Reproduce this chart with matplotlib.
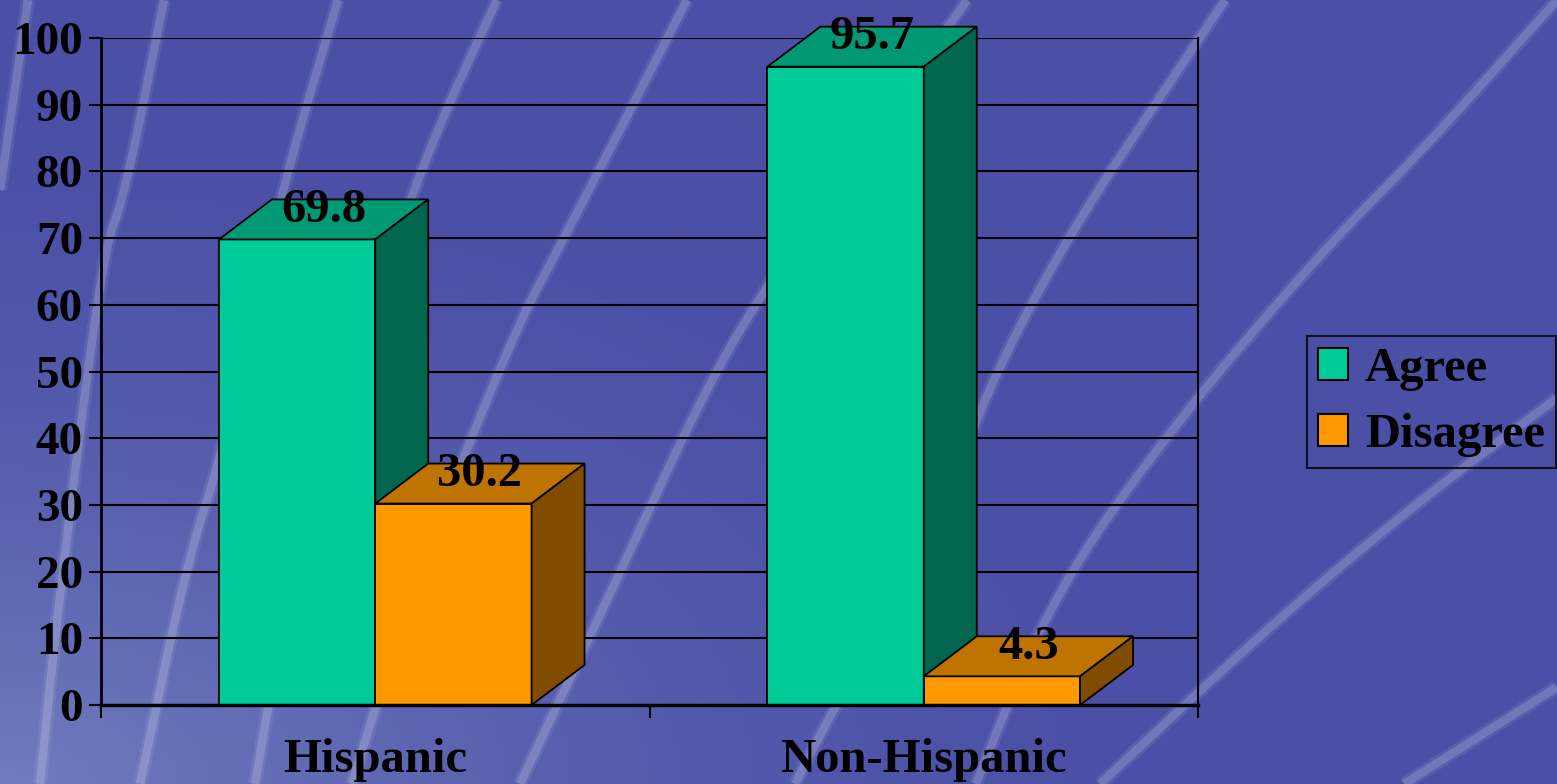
import matplotlib
matplotlib.use("Agg")
from matplotlib import pyplot as plt
from matplotlib.patches import Polygon, Patch
import numpy as np

# Data
categories = ["Hispanic", "Non-Hispanic"]
series = ["Agree", "Disagree"]
agree = [69.8, 95.7]
disagree = [30.2, 4.3]
yticks = list(range(0, 101, 10))

# Colours: front, top, side
face_cols = {"Agree": ("#00CC99", "#009973", "#00664D"),
             "Disagree": ("#FF9900", "#BF7300", "#804D00")}

W, H = 1557, 784
fig = plt.figure(figsize=(W / 100, H / 100), dpi=100)
plt.rcParams["font.family"] = ["Liberation Serif", "DejaVu Serif"]
plt.rcParams["font.weight"] = "bold"

# Background: blue gradient with light diagonal streaks
bg = fig.add_axes([0, 0, 1, 1], zorder=-10)
bg.set_xlim(0, W)
bg.set_ylim(H, 0)
bg.axis("off")
yy, xx = np.mgrid[0:H:4, 0:W:4]
t = np.clip(1 - np.hypot(xx / W, (H - yy) / H * 0.9) / 0.75, 0, 1) ** 1.6
base = np.array([75, 80, 166]) / 255
light = np.array([112, 124, 190]) / 255
img = base[None, None, :] * (1 - t[..., None]) + light[None, None, :] * t[..., None]
bg.imshow(img, extent=[0, W, H, 0], aspect="auto", interpolation="bilinear")

streaks = [
    [(28, 0), (0, 190)],
    [(164, 0), (124, 199), (103, 250), (58, 607), (40, 784)],
    [(338, 0), (279, 199), (224, 448), (187, 562), (140, 784)],
    [(497, 0), (428, 149), (358, 348), (300, 520), (255, 784)],
    [(687, 0), (558, 250), (520, 320), (446, 500), (379, 696), (352, 784)],
    [(967, 0), (767, 283), (700, 400), (625, 562), (520, 784)],
    [(1225, 0), (1026, 298), (926, 547), (827, 721), (795, 784)],
    [(1557, 0), (1424, 149), (1324, 249), (1175, 423), (1051, 597), (976, 784)],
    [(1557, 398), (1424, 497), (1274, 622), (1100, 784)],
    [(1557, 687), (1404, 784)],
]


def chaikin(pts, n=4):
    # corner cutting so the streaks bend smoothly
    for _ in range(n):
        q = [pts[0]]
        for a, b in zip(pts[:-1], pts[1:]):
            q.append(0.75 * a + 0.25 * b)
            q.append(0.25 * a + 0.75 * b)
        q.append(pts[-1])
        pts = np.array(q)
    return pts


for s in streaks:
    s = chaikin(np.array(s, dtype=float))
    bg.plot(s[:, 0], s[:, 1], color="white", alpha=0.08, lw=10, solid_capstyle="butt")
    bg.plot(s[:, 0], s[:, 1], color="white", alpha=0.16, lw=6, solid_capstyle="butt")

# Main axes
ax = fig.add_axes([101 / W, (H - 705) / H, (1198 - 101) / W, (705 - 38) / H])
ax.set_facecolor("none")
ax.set_xlim(0, 2)
ax.set_ylim(0, 100)

# grid lines (front plane)
for v in yticks[1:]:
    ax.axhline(v, color="black", lw=1.5, zorder=1)

bw = 0.285      # bar width (axis units)
dx = 0.0966     # depth offset, x
dy = 6.0        # depth offset, y


def box(x0, h, name):
    front, top, side = face_cols[name]
    x1 = x0 + bw
    ax.add_patch(Polygon([(x0, 0), (x1, 0), (x1, h), (x0, h)], closed=True,
                         facecolor=front, edgecolor="black", lw=1.3, zorder=3, clip_on=False))
    ax.add_patch(Polygon([(x0, h), (x1, h), (x1 + dx, h + dy), (x0 + dx, h + dy)], closed=True,
                         facecolor=top, edgecolor="black", lw=1.3, zorder=3, clip_on=False))
    ax.add_patch(Polygon([(x1, 0), (x1 + dx, dy), (x1 + dx, h + dy), (x1, h)], closed=True,
                         facecolor=side, edgecolor="black", lw=1.3, zorder=3, clip_on=False))
    ax.text(x0 + bw / 2 + dx / 2, h + 4.4, f"{h:.1f}", ha="center", va="center",
            fontsize=35, fontweight="bold", zorder=5, clip_on=False)


for i, cat in enumerate(categories):
    c = i + 0.5
    box(c - bw, agree[i], "Agree")
    box(c, disagree[i], "Disagree")

# Spines and ticks
for side in ["left", "bottom", "right"]:
    ax.spines[side].set_color("black")
ax.spines["left"].set_linewidth(2)
ax.spines["bottom"].set_linewidth(2.5)
ax.spines["right"].set_linewidth(1.5)
ax.spines["top"].set_visible(False)
ax.spines["bottom"].set_zorder(4)

ax.set_yticks(yticks)
ax.set_yticklabels([str(v) for v in yticks])
ax.tick_params(axis="y", direction="out", length=9, width=1.5, pad=4,
               labelsize=34, colors="black")
ax.set_xticks([0, 1, 2])
ax.set_xticklabels(["", "", ""])
ax.tick_params(axis="x", which="major", direction="out", length=9, width=1.5)
ax.set_xticks([0.5, 1.5], minor=True)
ax.set_xticklabels(categories, minor=True)
ax.tick_params(axis="x", which="minor", length=0, pad=24, labelsize=35)
for lab in ax.get_yticklabels() + ax.get_xticklabels(minor=True):
    lab.set_fontweight("bold")

# Legend
handles = [Patch(facecolor=face_cols[s][0], edgecolor="black", lw=1.5, label=s) for s in series]
leg = fig.legend(handles=handles, loc="center left", bbox_to_anchor=(1307 / W, (H - 402) / H),
                 prop={"size": 35, "weight": "bold"}, frameon=True, fancybox=False,
                 handlelength=0.62, handleheight=0.62, handletextpad=0.35,
                 labelspacing=0.45, borderpad=0.22, borderaxespad=0)
frame = leg.get_frame()
frame.set_facecolor("none")
frame.set_edgecolor("black")
frame.set_linewidth(1.5)

fig.savefig("out.png", dpi=100)
